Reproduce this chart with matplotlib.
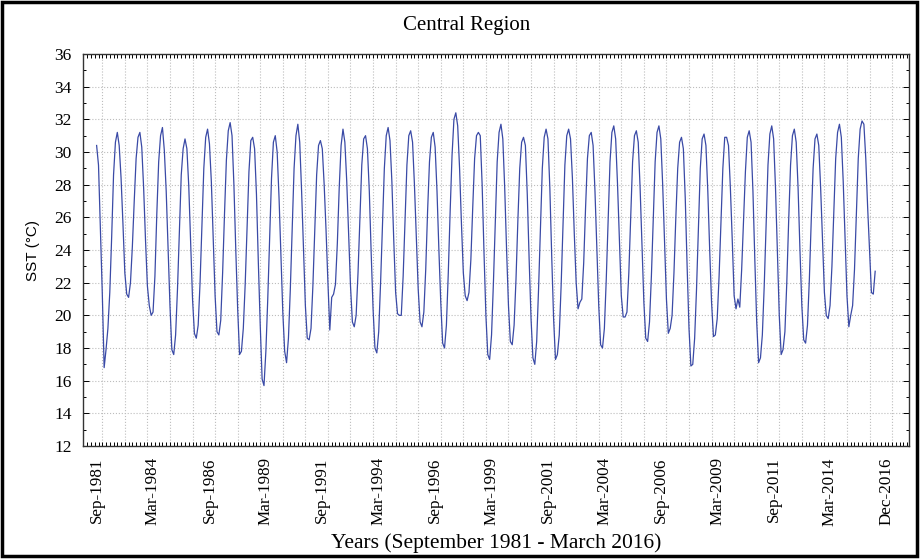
import matplotlib
matplotlib.use("Agg")
import matplotlib.pyplot as plt
from matplotlib.patches import Rectangle
from matplotlib.ticker import FixedLocator, MultipleLocator

# monthly SST (degC), Sep 1981 .. Mar 2016, one row per Sep-Aug season
sst = [
    30.4, 29.2, 25.4, 21.4, 16.8, 17.9, 19.2, 21.4, 24.8, 28.6, 30.6, 31.2,
    30.4, 28.4, 25.6, 22.6, 21.3, 21.1, 22.0, 24.2, 27.0, 29.6, 30.9, 31.2,
    30.3, 27.8, 24.6, 21.8, 20.6, 20.0, 20.2, 22.4, 26.2, 29.4, 31.0, 31.5,
    30.1, 27.6, 24.2, 20.6, 17.9, 17.6, 18.8, 21.6, 25.0, 28.6, 30.2, 30.8,
    30.2, 27.9, 24.4, 21.0, 18.9, 18.6, 19.4, 22.0, 25.6, 29.0, 30.9, 31.4,
    30.5, 28.2, 24.6, 21.2, 19.0, 18.8, 19.7, 22.6, 26.2, 29.5, 31.3, 31.8,
    31.0, 28.0, 24.0, 20.4, 17.6, 17.8, 19.2, 21.9, 25.4, 28.8, 30.7, 30.9,
    30.2, 27.4, 23.2, 19.4, 16.1, 15.7, 17.8, 21.0, 24.8, 28.4, 30.6, 31.0,
    30.0, 27.2, 23.6, 20.2, 17.8, 17.1, 18.6, 21.6, 25.4, 29.0, 31.0, 31.7,
    30.6, 27.6, 24.0, 20.6, 18.6, 18.5, 19.2, 21.8, 25.2, 28.6, 30.4, 30.7,
    30.2, 28.0, 25.2, 22.0, 19.1, 21.1, 21.3, 21.9, 24.4, 27.8, 30.4, 31.4,
    30.6, 28.2, 25.0, 21.8, 19.6, 19.3, 20.0, 22.6, 26.0, 29.2, 30.8, 31.0,
    30.2, 27.6, 23.8, 20.4, 18.0, 17.7, 19.0, 22.0, 25.6, 29.0, 31.0, 31.5,
    30.7, 28.2, 24.6, 21.4, 20.1, 20.0, 20.0, 22.4, 25.8, 29.2, 31.0, 31.3,
    30.6, 28.0, 24.8, 21.6, 19.6, 19.3, 20.2, 22.8, 26.4, 29.4, 30.9, 31.2,
    30.3, 27.6, 24.0, 20.8, 18.3, 18.0, 19.4, 22.6, 26.4, 29.8, 32.0, 32.4,
    31.6, 29.0, 25.6, 22.6, 21.2, 20.9, 21.4, 23.4, 26.6, 29.6, 31.0, 31.2,
    31.0, 28.0, 23.8, 20.0, 17.6, 17.3, 18.8, 22.0, 25.8, 29.4, 31.2, 31.7,
    30.8, 27.8, 24.0, 20.6, 18.4, 18.2, 19.4, 22.2, 25.8, 29.0, 30.6, 30.9,
    30.4, 27.4, 23.4, 19.8, 17.4, 17.0, 18.4, 21.6, 25.4, 29.0, 30.9, 31.4,
    30.8, 27.8, 23.6, 19.8, 17.3, 17.6, 18.8, 21.8, 25.6, 29.2, 31.0, 31.4,
    30.8, 28.4, 25.0, 22.0, 20.4, 20.8, 21.0, 23.2, 26.6, 29.6, 31.0, 31.2,
    30.4, 27.6, 24.0, 20.6, 18.2, 18.0, 19.2, 22.2, 25.8, 29.4, 31.2, 31.6,
    30.8, 28.0, 24.6, 21.2, 19.9, 19.9, 20.2, 22.6, 26.0, 29.4, 31.0, 31.3,
    30.6, 27.8, 24.2, 20.8, 18.6, 18.4, 19.6, 22.4, 26.0, 29.4, 31.2, 31.6,
    30.8, 28.0, 24.4, 21.0, 18.9, 19.2, 20.0, 22.6, 26.0, 29.0, 30.6, 30.9,
    30.2, 27.2, 23.0, 19.2, 16.9, 17.0, 18.6, 21.6, 25.4, 29.0, 30.8, 31.1,
    30.4, 27.6, 24.0, 20.8, 18.7, 18.8, 19.8, 22.4, 25.8, 29.0, 30.9, 30.9,
    30.4, 27.8, 24.6, 21.2, 20.4, 21.0, 20.5, 22.8, 25.8, 28.8, 30.9, 31.3,
    30.6, 27.6, 23.4, 19.6, 17.1, 17.4, 18.8, 21.8, 25.6, 29.2, 31.1, 31.6,
    30.8, 27.8, 23.8, 20.0, 17.6, 17.9, 19.0, 22.0, 25.8, 29.2, 31.0, 31.4,
    30.6, 27.8, 24.0, 20.6, 18.5, 18.3, 19.4, 22.2, 25.8, 29.0, 30.8, 31.1,
    30.4, 27.8, 24.6, 21.4, 20.0, 19.8, 20.6, 23.0, 26.4, 29.6, 31.2, 31.7,
    30.9, 28.2, 24.6, 21.2, 19.3, 20.0, 20.6, 22.8, 26.2, 29.6, 31.4, 31.9,
    31.7, 29.6, 26.6, 24.0, 21.4, 21.3, 22.7,
]

tick_labels = ["Sep-1981", "Mar-1984", "Sep-1986", "Mar-1989", "Sep-1991",
               "Mar-1994", "Sep-1996", "Mar-1999", "Sep-2001", "Mar-2004",
               "Sep-2006", "Mar-2009", "Sep-2011", "Mar-2014", "Dec-2016"]
yticks = list(range(12, 37, 2))

serif = "Liberation Serif"

fig = plt.figure(figsize=(9.21, 5.59), dpi=100)
ax = fig.add_axes([0.0898, 0.2021, 0.8972, 0.7013])

months = range(len(sst))
ax.plot(months, sst, color="#3a4aa6", lw=0.9)

ax.set_xlim(-7.4, 432)
ax.set_ylim(12, 36)

# labelled ticks every 30 months, small ticks every 2 months
ax.xaxis.set_major_locator(FixedLocator(range(0, 30 * len(tick_labels), 30)))
ax.set_xticklabels(tick_labels, rotation=90, fontfamily=serif, fontsize=12.3)
ax.xaxis.set_minor_locator(MultipleLocator(2, offset=1))
ax.tick_params(axis="x", which="major", length=0, pad=8)
ax.tick_params(axis="x", which="minor", direction="in", length=3, top=True, width=0.7)

ax.set_yticks(yticks)
ax.set_yticklabels([str(v) for v in yticks], fontfamily=serif, fontsize=12.5)
ax.yaxis.set_minor_locator(MultipleLocator(1))
ax.tick_params(axis="y", which="both", direction="in", right=True, width=0.7)
ax.tick_params(axis="y", which="major", length=4, pad=8)
ax.tick_params(axis="y", which="minor", length=2.5)

# dotted grid: horizontal at labelled values, vertical once a year
ax.grid(axis="y", which="major", ls=":", color="#bdbdbd", lw=0.8)
for m in range(3, 432, 12):
    ax.axvline(m, ls=":", color="#bdbdbd", lw=0.8, zorder=0)

for s in ax.spines.values():
    s.set_linewidth(1.0)
    s.set_color("#333333")

ax.set_ylabel("SST (°C)", fontfamily="Liberation Sans", fontsize=11, labelpad=10)
fig.text(0.5385, 0.028, "Years (September 1981 - March 2016)",
         ha="center", va="center", fontfamily=serif, fontsize=15.5)
fig.text(0.507, 0.955, "Central Region", ha="center", va="center",
         fontfamily=serif, fontsize=15)

fig.patches.append(Rectangle((0.002, 0.006), 0.994, 0.99, transform=fig.transFigure,
                             fill=False, lw=2.5, color="black"))

fig.savefig("out.png", dpi=100)
